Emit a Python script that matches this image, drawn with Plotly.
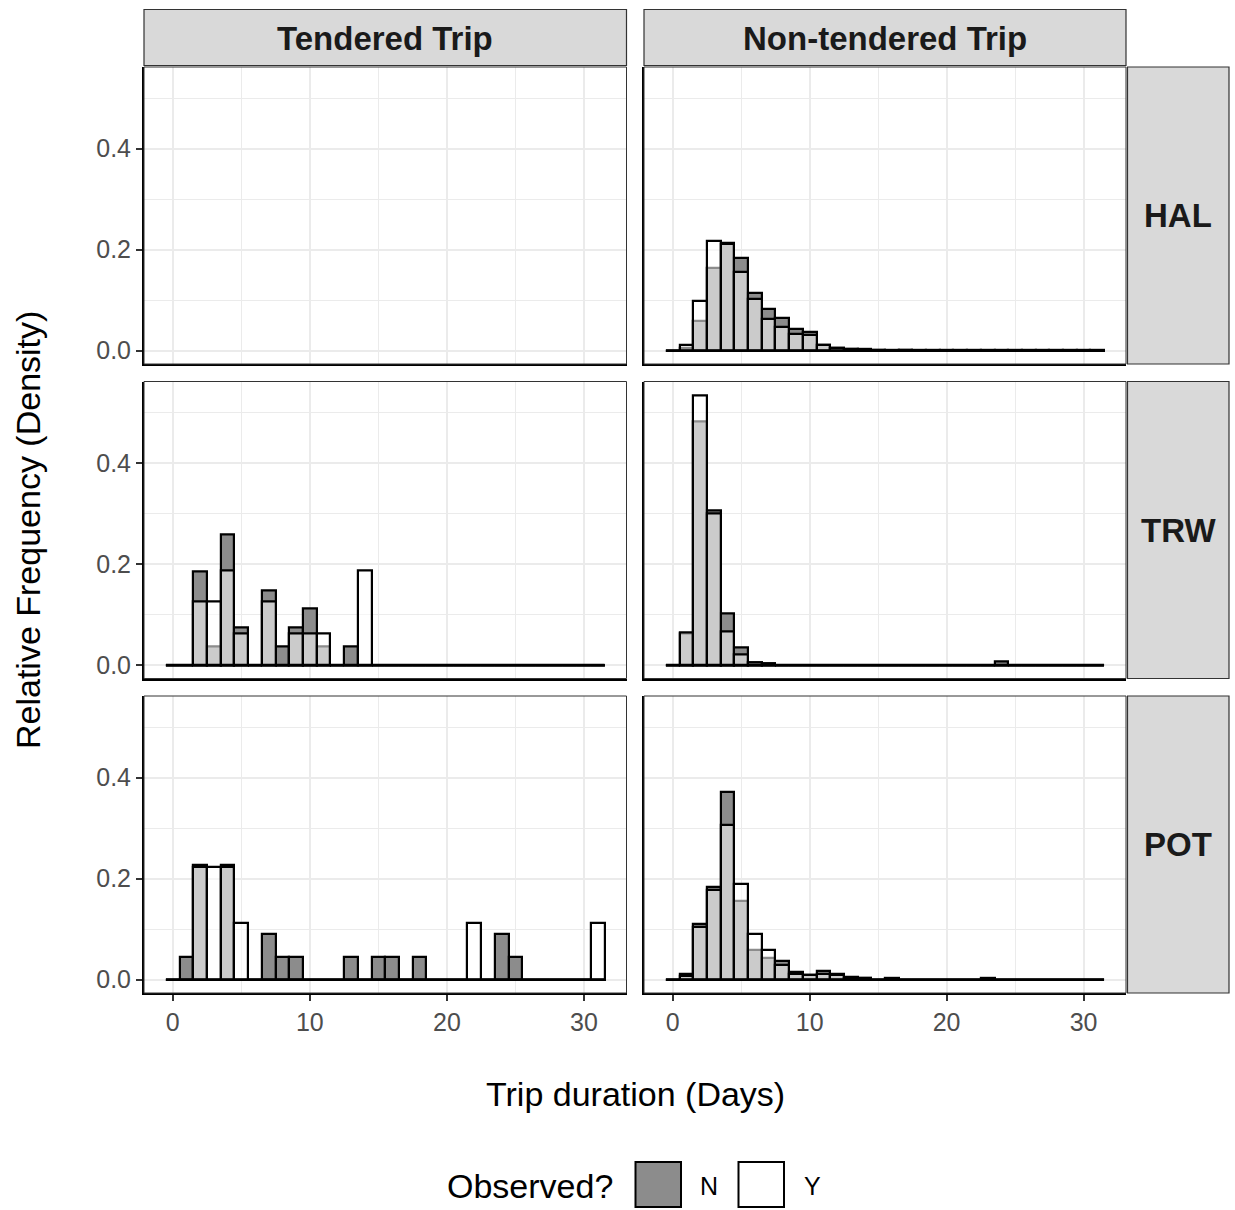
import plotly.graph_objects as go

# ---------------- data ----------------
days = [0, 1, 2, 3, 4, 5, 6, 7, 8, 9, 10, 11, 12, 13, 14, 15,
        16, 17, 18, 19, 20, 21, 22, 23, 24, 25, 26, 27, 28, 29, 30, 31]
gears = ["HAL", "TRW", "POT"]
trips = ["Tendered Trip", "Non-tendered Trip"]
groups = ["N", "Y"]

# HAL tendered: no trips
hal_tendered_N = []
hal_tendered_Y = []
hal_nontendered_N = [0, 0.005, 0.059, 0.163, 0.214, 0.183, 0.114, 0.083, 0.064, 0.043, 0.036, 0.011,
                     0.005, 0.003, 0.002, 0.001, 0.001, 0.0008, 0.0005, 0.0005, 0.0005, 0.0005, 0.0005, 0.0008,
                     0.0005, 0.0005, 0.0005, 0.0005, 0.0005, 0.0008, 0.0005, 0.0005]
hal_nontendered_Y = [0, 0.011, 0.098, 0.216, 0.212, 0.156, 0.102, 0.062, 0.046, 0.032, 0.030, 0.011,
                     0.005, 0.003, 0.001, 0.001, 0, 0.0005, 0, 0, 0, 0, 0, 0,
                     0, 0, 0, 0, 0, 0, 0, 0]

trw_tendered_N = [0, 0, 0.185, 0.037, 0.259, 0.074, 0, 0.148, 0.037, 0.074, 0.111, 0.037,
                  0, 0.037, 0, 0, 0, 0, 0, 0, 0, 0, 0, 0,
                  0, 0, 0, 0, 0, 0, 0, 0]
trw_tendered_Y = [0, 0, 0.125, 0.125, 0.1875, 0.0625, 0, 0.125, 0, 0.0625, 0.0625, 0.0625,
                  0, 0, 0.1875, 0, 0, 0, 0, 0, 0, 0, 0, 0,
                  0, 0, 0, 0, 0, 0, 0, 0]
trw_nontendered_N = [0, 0.063, 0.483, 0.307, 0.102, 0.035, 0.004, 0.002, 0, 0, 0, 0,
                     0, 0, 0, 0, 0, 0, 0, 0, 0, 0, 0, 0,
                     0.007, 0, 0, 0, 0, 0, 0, 0]
trw_nontendered_Y = [0, 0.064, 0.535, 0.300, 0.066, 0.020, 0.004, 0.002, 0, 0, 0, 0,
                     0, 0, 0, 0, 0, 0, 0, 0, 0, 0, 0, 0,
                     0, 0, 0, 0, 0, 0, 0, 0]

pot_tendered_N = [0, 0.045, 0.227, 0, 0.227, 0, 0, 0.091, 0.045, 0.045, 0, 0,
                  0, 0.045, 0, 0.045, 0.045, 0, 0.045, 0, 0, 0, 0, 0,
                  0.091, 0.045, 0, 0, 0, 0, 0, 0]
pot_tendered_Y = [0, 0, 0.222, 0.222, 0.222, 0.111, 0, 0, 0, 0, 0, 0,
                  0, 0, 0, 0, 0, 0, 0, 0, 0, 0, 0.111, 0,
                  0, 0, 0, 0, 0, 0, 0, 0.111]
pot_nontendered_N = [0, 0.010, 0.110, 0.184, 0.371, 0.155, 0.058, 0.042, 0.036, 0.015, 0.008, 0.017,
                     0.011, 0.004, 0.002, 0, 0.003, 0, 0, 0, 0, 0, 0, 0.003,
                     0, 0, 0, 0, 0, 0, 0, 0]
pot_nontendered_Y = [0, 0.006, 0.105, 0.177, 0.307, 0.190, 0.091, 0.059, 0.028, 0.010, 0.008, 0.010,
                     0.008, 0.003, 0.002, 0, 0, 0, 0, 0, 0, 0, 0, 0,
                     0, 0, 0, 0, 0, 0, 0, 0]

x_tick_vals = [0, 10, 20, 30]
y_tick_vals = [0.0, 0.2, 0.4]
y_tick_text = ["0.0", "0.2", "0.4"]

panel_data = {
    ("HAL", "Tendered Trip"): (hal_tendered_N, hal_tendered_Y),
    ("HAL", "Non-tendered Trip"): (hal_nontendered_N, hal_nontendered_Y),
    ("TRW", "Tendered Trip"): (trw_tendered_N, trw_tendered_Y),
    ("TRW", "Non-tendered Trip"): (trw_nontendered_N, trw_nontendered_Y),
    ("POT", "Tendered Trip"): (pot_tendered_N, pot_tendered_Y),
    ("POT", "Non-tendered Trip"): (pot_nontendered_N, pot_nontendered_Y),
}

# ---------------- styling ----------------
W, H = 1235, 1210
FONT = "Liberation Sans, Arial, sans-serif"
N_FILL = "#8c8c8c"
Y_FILL = "rgba(255,255,255,0.55)"
STRIP_FILL = "#d9d9d9"
GRID = "#ebebeb"

col_px = [(144, 626.5), (644, 1126)]
row_px = [(67, 364), (381.5, 678.5), (696, 993)]


def fx(p):
    return p / W


def fy(p):
    return 1 - p / H


all_vals = [v for (a, b) in panel_data.values() for v in a + b]
ymax = max(all_vals)
y_range = [-0.05 * ymax, 1.05 * ymax]
x_lo, x_hi = days[0] - 0.5, days[-1] + 0.5
x_pad = 0.05 * (x_hi - x_lo)
x_range = [x_lo - x_pad, x_hi + x_pad]

fig = go.Figure()
layout = dict(
    width=W, height=H,
    margin=dict(l=0, r=0, t=0, b=0),
    paper_bgcolor="white", plot_bgcolor="white",
    barmode="overlay", bargap=0, showlegend=False,
    font=dict(family=FONT, color="#000000"),
)
shapes = []
annotations = []

for r, gear in enumerate(gears):
    for c, trip in enumerate(trips):
        i = r * 2 + c + 1
        xa = "x" if i == 1 else f"x{i}"
        ya = "y" if i == 1 else f"y{i}"
        xkey = "xaxis" if i == 1 else f"xaxis{i}"
        ykey = "yaxis" if i == 1 else f"yaxis{i}"
        (x0p, x1p), (y0p, y1p) = col_px[c], row_px[r]
        outer_x = (r == 2)
        outer_y = (c == 0)
        layout[xkey] = dict(
            domain=[fx(x0p), fx(x1p)], anchor=ya, range=x_range,
            tickvals=x_tick_vals, showticklabels=outer_x,
            ticks="outside" if outer_x else "", ticklen=6, tickwidth=1.5, tickcolor="#333333",
            tickfont=dict(size=25, color="#4d4d4d", family=FONT),
            showgrid=True, gridcolor=GRID, gridwidth=2,
            minor=dict(dtick=5, tick0=0, showgrid=True, gridcolor=GRID, gridwidth=1, ticks=""),
            showline=True, linecolor="black", linewidth=2, zeroline=False,
            fixedrange=True,
        )
        layout[ykey] = dict(
            domain=[fy(y1p), fy(y0p)], anchor=xa, range=y_range,
            tickvals=y_tick_vals, ticktext=y_tick_text, showticklabels=outer_y,
            ticks="outside" if outer_y else "", ticklen=6, tickwidth=1.5, tickcolor="#333333",
            tickfont=dict(size=25, color="#4d4d4d", family=FONT),
            showgrid=True, gridcolor=GRID, gridwidth=2,
            minor=dict(dtick=0.1, tick0=0, showgrid=True, gridcolor=GRID, gridwidth=1, ticks=""),
            showline=True, linecolor="black", linewidth=2, zeroline=False,
            fixedrange=True,
        )
        # panel border
        shapes.append(dict(type="rect", xref="paper", yref="paper",
                           x0=fx(x0p), x1=fx(x1p), y0=fy(y1p), y1=fy(y0p),
                           line=dict(color="#333333", width=1), fillcolor="rgba(0,0,0,0)"))

        n_vals, y_vals = panel_data[(gear, trip)]
        if n_vals:
            fig.add_trace(go.Scatter(x=[x_lo, x_hi], y=[0, 0], mode="lines",
                                     line=dict(color="black", width=2.5),
                                     xaxis=xa, yaxis=ya, hoverinfo="skip"))
            fig.add_trace(go.Bar(x=days, y=n_vals, width=1, name="N",
                                 marker=dict(color=N_FILL, line=dict(color="black", width=2.2)),
                                 xaxis=xa, yaxis=ya))
            fig.add_trace(go.Bar(x=days, y=y_vals, width=1, name="Y",
                                 marker=dict(color=Y_FILL, line=dict(color="black", width=2.2)),
                                 xaxis=xa, yaxis=ya))
        else:
            # empty panel: placeholder trace so the subplot's axes and grid are drawn
            fig.add_trace(go.Scatter(x=[None], y=[None], mode="markers",
                                     xaxis=xa, yaxis=ya, hoverinfo="skip"))

# column strips
for c, trip in enumerate(trips):
    x0p, x1p = col_px[c]
    shapes.append(dict(type="rect", xref="paper", yref="paper",
                       x0=fx(x0p), x1=fx(x1p), y0=fy(65.5), y1=fy(9.5),
                       line=dict(color="#333333", width=1.2), fillcolor=STRIP_FILL))
    annotations.append(dict(text=f"<b>{trip}</b>", xref="paper", yref="paper",
                            x=fx((x0p + x1p) / 2), y=fy(38), showarrow=False,
                            xanchor="center", yanchor="middle",
                            font=dict(size=33, color="#1a1a1a", family=FONT)))
# row strips
for r, gear in enumerate(gears):
    y0p, y1p = row_px[r]
    shapes.append(dict(type="rect", xref="paper", yref="paper",
                       x0=fx(1127.5), x1=fx(1229), y0=fy(y1p), y1=fy(y0p),
                       line=dict(color="#333333", width=1.2), fillcolor=STRIP_FILL))
    annotations.append(dict(text=f"<b>{gear}</b>", xref="paper", yref="paper",
                            x=fx(1178), y=fy((y0p + y1p) / 2), showarrow=False,
                            xanchor="center", yanchor="middle",
                            font=dict(size=33, color="#1a1a1a", family=FONT)))

# axis titles
annotations.append(dict(text="Trip duration (Days)", xref="paper", yref="paper",
                        x=fx(635), y=fy(1094), showarrow=False,
                        xanchor="center", yanchor="middle",
                        font=dict(size=34, color="#000000", family=FONT)))
annotations.append(dict(text="Relative Frequency (Density)", xref="paper", yref="paper",
                        x=fx(28), y=fy(530), showarrow=False, textangle=-90,
                        xanchor="center", yanchor="middle",
                        font=dict(size=34, color="#000000", family=FONT)))

# legend (manual, to match large key boxes)
annotations.append(dict(text="Observed?", xref="paper", yref="paper",
                        x=fx(615), y=fy(1186), showarrow=False,
                        xanchor="right", yanchor="middle",
                        font=dict(size=34, color="#000000", family=FONT)))
legend_keys = [(groups[0], N_FILL, 635.5, 681, 709), (groups[1], "white", 738.5, 784, 812)]
for label, fill, kx0, kx1, tx in legend_keys:
    shapes.append(dict(type="rect", xref="paper", yref="paper",
                       x0=fx(kx0), x1=fx(kx1), y0=fy(1207), y1=fy(1162),
                       line=dict(color="black", width=2), fillcolor=fill))
    annotations.append(dict(text=label, xref="paper", yref="paper",
                            x=fx(tx), y=fy(1186), showarrow=False,
                            xanchor="center", yanchor="middle",
                            font=dict(size=25, color="#000000", family=FONT)))

layout["shapes"] = shapes
layout["annotations"] = annotations
fig.update_layout(**layout)
fig.write_html(
    "out.html",
    config={"displayModeBar": False, "staticPlot": False},
    post_script="document.body.style.margin='0';document.body.style.overflow='hidden';",
)
